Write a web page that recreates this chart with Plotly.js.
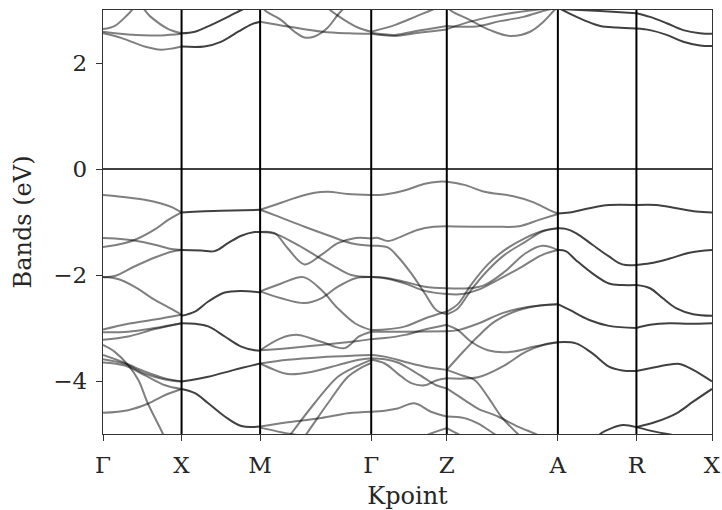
<!DOCTYPE html>
<html><head><meta charset="utf-8">
<script src="https://cdn.plot.ly/plotly-3.0.1.min.js"></script>
<style>html,body{margin:0;padding:0;background:#fff}#chart{width:722px;height:510px}</style>
</head><body><div id="chart"></div>
<script>
// High-symmetry path (k-distance, 2pi/a units) and labels
const kTicks = [0, 0.5, 1.0, 1.707, 2.188, 2.895, 3.395, 3.876];
const kLabels = ['Γ', 'X', 'M', 'Γ', 'Z', 'A', 'R', 'X'];
const yTicks = [-4, -2, 0, 2];

// Bands per segment: each band = list of [fraction along segment, energy eV]
const GX_gray = [
  [[0,-0.49],[0.15,-0.51],[0.53,-0.58],[0.74,-0.65],[0.89,-0.73],[1,-0.82]],
  [[0,-1.47],[0.15,-1.44],[0.4,-1.34],[0.66,-1.14],[0.83,-0.96],[1,-0.82]],
  [[0,-1.30],[0.15,-1.31],[0.4,-1.35],[0.66,-1.43],[0.87,-1.51],[1,-1.53]],
  [[0,-2.04],[0.15,-2.02],[0.4,-1.84],[0.66,-1.67],[0.87,-1.56],[1,-1.53]],
  [[0,-2.04],[0.2,-2.08],[0.4,-2.22],[0.66,-2.47],[0.87,-2.64],[1,-2.75]],
  [[0,-3.03],[0.32,-2.92],[0.66,-2.84],[1,-2.75]],
  [[0,-3.08],[0.32,-3.07],[0.66,-3.0],[1,-2.91]],
  [[0,-3.22],[0.32,-3.16],[0.66,-3.02],[1,-2.91]],
  [[0,-3.32],[0.15,-3.45],[0.32,-3.70],[0.45,-3.98],[0.57,-4.42],[0.76,-4.99],[0.85,-5.3]],
  [[0,-3.51],[0.28,-3.66],[0.53,-3.82],[0.79,-3.95],[1,-4.01]],
  [[0,-3.59],[0.28,-3.68],[0.53,-3.86],[0.79,-3.97],[1,-4.01]],
  [[0,-3.65],[0.28,-3.71],[0.53,-3.89],[0.79,-4.08],[1,-4.15]],
  [[0,-4.60],[0.32,-4.55],[0.57,-4.43],[0.8,-4.26],[1,-4.15]],
  [[0,2.64],[0.15,2.70],[0.32,2.92],[0.45,3.1],[0.6,2.88],[0.82,2.65],[1,2.56]],
  [[0,2.59],[0.32,2.54],[0.74,2.52],[1,2.55]],
  [[0,2.56],[0.24,2.47],[0.53,2.31],[0.74,2.25],[0.9,2.28],[1,2.31]]
];

const XM_dark = [
  [[0,-0.82],[0.5,-0.79],[1,-0.77]],
  [[0,-1.53],[0.25,-1.54],[0.42,-1.55],[0.59,-1.40],[0.76,-1.26],[0.93,-1.19],[1,-1.19]],
  [[0,-2.77],[0.17,-2.69],[0.34,-2.50],[0.55,-2.33],[0.76,-2.30],[1,-2.33]],
  [[0,-2.91],[0.17,-2.92],[0.34,-2.97],[0.55,-3.16],[0.76,-3.35],[0.93,-3.42],[1,-3.43]],
  [[0,-4.01],[0.34,-3.92],[0.67,-3.79],[1,-3.67]],
  [[0,-4.15],[0.17,-4.23],[0.34,-4.42],[0.55,-4.67],[0.76,-4.85],[1,-4.86]],
  [[0,2.56],[0.17,2.59],[0.38,2.72],[0.59,2.87],[0.76,3.0],[1,3.15]],
  [[0,2.31],[0.29,2.31],[0.5,2.40],[0.72,2.59],[0.89,2.73],[1,2.78]]
];

const MG_gray = [
  [[0,-0.77],[0.13,-0.68],[0.31,-0.55],[0.49,-0.45],[0.61,-0.43],[0.79,-0.47],[1,-0.49]],
  [[0,-0.77],[0.13,-0.87],[0.40,-1.09],[0.61,-1.25],[0.82,-1.40],[1,-1.45]],
  [[0,-1.19],[0.13,-1.21],[0.25,-1.50],[0.40,-1.80],[0.55,-1.62],[0.70,-1.40],[0.86,-1.30],[1,-1.31]],
  [[0,-1.19],[0.13,-1.22],[0.31,-1.40],[0.49,-1.62],[0.67,-1.84],[0.82,-2.0],[1,-2.04]],
  [[0,-2.31],[0.19,-2.16],[0.39,-2.04],[0.55,-2.28],[0.70,-2.63],[0.86,-2.92],[1,-3.04]],
  [[0,-2.31],[0.19,-2.44],[0.40,-2.53],[0.55,-2.44],[0.70,-2.22],[0.86,-2.06],[1,-2.04]],
  [[0,-3.42],[0.19,-3.19],[0.34,-3.13],[0.55,-3.26],[0.76,-3.38],[0.89,-3.16],[1,-3.07]],
  [[0,-3.42],[0.25,-3.38],[0.55,-3.32],[0.86,-3.25],[1,-3.21]],
  [[0,-3.67],[0.25,-3.60],[0.55,-3.55],[0.86,-3.52],[1,-3.51]],
  [[0,-3.67],[0.13,-3.79],[0.25,-3.87],[0.46,-3.83],[0.70,-3.70],[0.89,-3.60],[1,-3.57]],
  [[0.2,-5.21],[0.28,-4.99],[0.49,-4.42],[0.70,-3.92],[0.86,-3.73],[1,-3.60]],
  [[0.34,-5.21],[0.42,-4.99],[0.61,-4.42],[0.79,-3.92],[0.90,-3.76],[1,-3.66]],
  [[0,-4.86],[0.25,-4.78],[0.55,-4.70],[0.79,-4.61],[1,-4.58]],
  [[0,-4.88],[0.2,-4.97],[0.4,-5.05],[0.6,-5.2]],
  [[0,2.78],[0.25,2.69],[0.56,2.59],[0.8,2.56],[1,2.55]],
  [[0,3.15],[0.04,3.0],[0.19,2.81],[0.31,2.59],[0.40,2.48],[0.49,2.50],[0.60,2.65],[0.70,2.91],[0.76,3.05]],
  [[0.58,3.1],[0.63,3.0],[0.76,2.81],[0.88,2.67],[1,2.59]]
];

const GZ_gray = [
  [[0,-0.49],[0.18,-0.48],[0.45,-0.40],[0.71,-0.28],[0.89,-0.24],[1,-0.24]],
  [[0,-1.31],[0.09,-1.30],[0.22,-1.36],[0.39,-1.28],[0.61,-1.15],[0.83,-1.09],[1,-1.08]],
  [[0,-1.45],[0.09,-1.45],[0.22,-1.48],[0.35,-1.65],[0.53,-1.97],[0.71,-2.35],[0.86,-2.66],[1,-2.74]],
  [[0,-2.04],[0.18,-2.05],[0.45,-2.13],[0.71,-2.22],[1,-2.25]],
  [[0,-2.04],[0.18,-2.06],[0.45,-2.16],[0.71,-2.30],[1,-2.36]],
  [[0,-3.04],[0.18,-3.03],[0.45,-2.97],[0.71,-2.82],[1,-2.69]],
  [[0,-3.07],[0.45,-3.07],[1,-3.06]],
  [[0,-3.21],[0.18,-3.19],[0.45,-3.13],[0.71,-3.03],[1,-2.94]],
  [[0,-3.51],[0.18,-3.54],[0.45,-3.64],[0.71,-3.73],[1,-3.79]],
  [[0,-3.57],[0.18,-3.59],[0.35,-3.65],[0.53,-3.79],[0.71,-3.95],[0.86,-4.08],[1,-4.14]],
  [[0,-3.60],[0.18,-3.67],[0.35,-3.86],[0.53,-4.04],[0.71,-4.08],[0.86,-3.99],[1,-3.95]],
  [[0,-4.58],[0.18,-4.56],[0.35,-4.52],[0.57,-4.42],[0.79,-4.58],[1,-4.67]],
  [[0.6,-5.1],[0.79,-4.99],[1,-4.89]],
  [[0,2.55],[0.32,2.51],[0.58,2.56],[1,2.63]],
  [[0,2.57],[0.32,2.53],[0.58,2.6],[1,2.70]],
  [[0,2.59],[0.32,2.72],[0.58,2.87],[0.8,3.0],[1,3.1]]
];

const ZA_gray = [
  [[0,-0.24],[0.16,-0.30],[0.34,-0.43],[0.59,-0.51],[0.77,-0.62],[0.92,-0.77],[1,-0.84]],
  [[0,-1.08],[0.44,-1.09],[0.65,-1.08],[0.83,-0.96],[1,-0.85]],
  [[0,-2.74],[0.10,-2.63],[0.22,-2.28],[0.37,-1.91],[0.52,-1.62],[0.71,-1.37],[0.86,-1.18],[1,-1.12]],
  [[0,-2.69],[0.10,-2.55],[0.22,-2.18],[0.37,-1.80],[0.52,-1.53],[0.71,-1.30],[0.86,-1.17],[1,-1.12]],
  [[0,-2.25],[0.2,-2.25],[0.34,-2.19],[0.52,-1.94],[0.71,-1.59],[0.86,-1.45],[1,-1.53]],
  [[0,-2.36],[0.14,-2.36],[0.28,-2.28],[0.46,-2.09],[0.68,-1.84],[0.86,-1.62],[1,-1.53]],
  [[0,-2.94],[0.10,-3.04],[0.22,-3.26],[0.37,-3.42],[0.58,-3.45],[0.79,-3.35],[1,-3.27]],
  [[0,-3.06],[0.10,-3.04],[0.29,-2.91],[0.5,-2.72],[0.74,-2.60],[1,-2.55]],
  [[0,-3.79],[0.16,-3.42],[0.28,-3.16],[0.43,-2.88],[0.65,-2.66],[0.85,-2.57],[1,-2.55]],
  [[0,-3.95],[0.28,-3.93],[0.5,-3.73],[0.71,-3.45],[0.88,-3.31],[1,-3.27]],
  [[0,-3.79],[0.13,-3.89],[0.25,-3.98],[0.37,-4.30],[0.49,-4.67],[0.64,-5.0],[0.75,-5.2]],
  [[0,-4.14],[0.16,-4.36],[0.28,-4.52],[0.46,-4.67],[0.64,-4.86],[0.8,-5.0],[0.9,-5.1]],
  [[0,-4.67],[0.16,-4.70],[0.28,-4.80],[0.43,-5.0],[0.55,-5.15]],
  [[0,-4.89],[0.10,-5.0],[0.2,-5.1]],
  [[0,3.1],[0.03,3.0],[0.21,2.81],[0.39,2.62],[0.57,2.51],[0.75,2.59],[0.87,2.78],[0.97,3.0],[1,3.05]],
  [[0,2.64],[0.21,2.78],[0.39,2.87],[0.57,2.94],[0.79,3.0],[1,3.05]],
  [[0,2.70],[0.27,2.69],[0.48,2.79],[0.69,2.87],[0.9,3.0],[1,3.04]]
];

const AR_dark = [
  [[0,-0.84],[0.15,-0.82],[0.4,-0.74],[0.65,-0.68],[1,-0.68]],
  [[0,-1.12],[0.1,-1.13],[0.23,-1.21],[0.44,-1.43],[0.65,-1.65],[0.82,-1.80],[1,-1.81]],
  [[0,-1.53],[0.1,-1.55],[0.23,-1.72],[0.44,-1.97],[0.65,-2.16],[0.82,-2.19],[1,-2.19]],
  [[0,-2.55],[0.15,-2.66],[0.4,-2.85],[0.65,-2.96],[1,-3.0]],
  [[0,-3.27],[0.23,-3.29],[0.44,-3.48],[0.65,-3.73],[0.82,-3.80],[1,-3.81]],
  [[0.45,-5.2],[0.54,-5.0],[0.7,-4.88],[0.83,-4.83],[1,-4.87]],
  [[0,3.05],[0.15,2.93],[0.33,2.81],[0.54,2.70],[0.75,2.67],[1,2.65]],
  [[0,3.02],[0.54,2.98],[1,2.94]]
];

const RX_dark = [
  [[0,-0.68],[0.26,-0.68],[0.53,-0.74],[0.79,-0.80],[1,-0.82]],
  [[0,-1.81],[0.18,-1.78],[0.44,-1.69],[0.70,-1.58],[1,-1.53]],
  [[0,-2.19],[0.18,-2.25],[0.35,-2.44],[0.53,-2.63],[0.75,-2.74],[1,-2.77]],
  [[0,-3.0],[0.18,-2.94],[0.44,-2.91],[0.70,-2.92],[1,-2.91]],
  [[0,-3.81],[0.18,-3.76],[0.40,-3.70],[0.57,-3.68],[0.75,-3.79],[1,-4.01]],
  [[0,-4.87],[0.26,-4.77],[0.53,-4.61],[0.75,-4.39],[1,-4.15]],
  [[0,-4.87],[0.26,-4.96],[0.48,-5.02],[0.7,-5.1]],
  [[0,2.94],[0.18,2.87],[0.4,2.75],[0.62,2.62],[0.84,2.56],[1,2.55]],
  [[0,2.65],[0.18,2.62],[0.4,2.53],[0.62,2.40],[0.84,2.33],[1,2.32]]
];

const GRAY = 'rgba(0,0,0,0.5)';
const DARK = 'rgba(0,0,0,0.75)';
const segments = [
  [0, GX_gray, GRAY], [1, XM_dark, DARK], [2, MG_gray, GRAY], [3, GZ_gray, GRAY],
  [4, ZA_gray, GRAY], [5, AR_dark, DARK], [6, RX_dark, DARK]
];

const traces = [];
segments.forEach(([i, bands, col]) => {
  const k0 = kTicks[i], k1 = kTicks[i + 1];
  bands.forEach(b => {
    traces.push({
      type: 'scatter', mode: 'lines',
      x: b.map(p => k0 + p[0] * (k1 - k0)),
      y: b.map(p => p[1]),
      line: {color: col, width: 2, shape: 'spline', smoothing: 1},
      hoverinfo: 'skip', showlegend: false
    });
  });
});

const shapes = kTicks.slice(1, -1).map(k => ({
  type: 'line', xref: 'x', yref: 'paper', x0: k, x1: k, y0: 0, y1: 1,
  line: {color: '#000', width: 2}, layer: 'above'
}));
shapes.push({type: 'line', xref: 'paper', yref: 'y', x0: 0, x1: 1, y0: 0, y1: 0,
  line: {color: '#000', width: 1.6}, layer: 'above'});

const FONT = 'DejaVu Serif, Liberation Serif, serif';
const TXT = '#262626';
const layout = {
  width: 722, height: 510,
  margin: {l: 103, r: 10, t: 10, b: 76},
  paper_bgcolor: '#fff', plot_bgcolor: '#fff',
  font: {family: FONT, size: 24, color: TXT},
  showlegend: false,
  shapes: shapes,
  xaxis: {
    range: [kTicks[0], kTicks[kTicks.length - 1]],
    tickvals: kTicks, ticktext: kLabels,
    ticks: 'outside', ticklen: 6, tickwidth: 1, tickcolor: '#333',
    ticklabelstandoff: 4,
    showline: true, mirror: true, linecolor: '#333', linewidth: 1.2,
    showgrid: false, zeroline: false,
    tickfont: {family: FONT, size: 23, color: TXT},
    title: {text: 'Kpoint', font: {family: FONT, size: 24, color: TXT}, standoff: 11}
  },
  yaxis: {
    range: [-5, 3],
    tickvals: yTicks,
    ticks: 'outside', ticklen: 6, tickwidth: 1, tickcolor: '#333',
    ticklabelstandoff: 4,
    showline: true, mirror: true, linecolor: '#333', linewidth: 1.2,
    showgrid: false, zeroline: false,
    tickfont: {family: FONT, size: 23, color: TXT},
    title: {text: 'Bands (eV)', font: {family: FONT, size: 24, color: TXT}, standoff: 14}
  }
};

Plotly.newPlot('chart', traces, layout, {staticPlot: true, displayModeBar: false});
</script></body></html>
